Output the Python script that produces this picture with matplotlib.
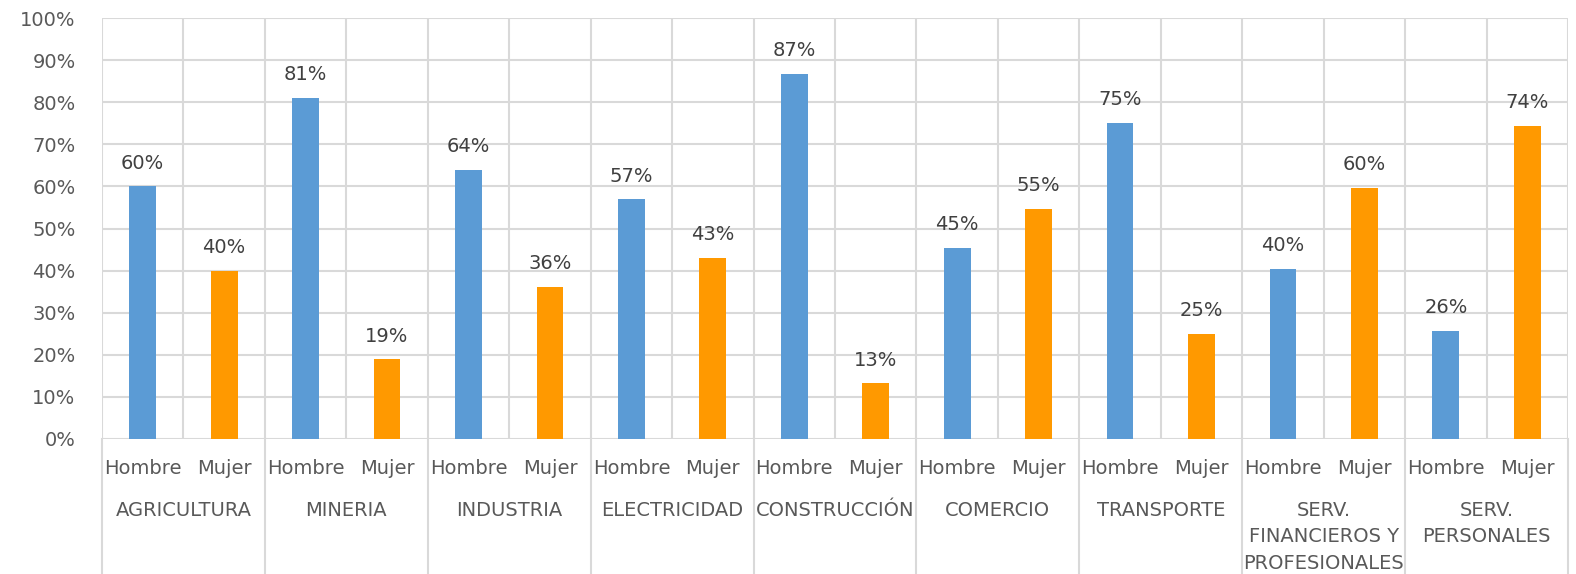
import numpy as np
import matplotlib

matplotlib.use('Agg')
import matplotlib.pyplot as plt

# data (share of employment by sex)
sectors = ['AGRICULTURA', 'MINERIA', 'INDUSTRIA', 'ELECTRICIDAD', 'CONSTRUCCIÓN',
           'COMERCIO', 'TRANSPORTE', 'SERV.\nFINANCIEROS Y\nPROFESIONALES',
           'SERV.\nPERSONALES']
sexes = ['Hombre', 'Mujer']
hombre = [60.0, 81.1, 63.9, 56.9, 86.8, 45.4, 75.1, 40.4, 25.6]
mujer = [40.0, 18.9, 36.1, 43.1, 13.2, 54.6, 24.9, 59.6, 74.4]

blue = '#5B9BD5'
orange = '#FF9900'
grid_c = '#D9D9D9'
tick_c = '#595959'
label_c = '#404040'

plt.rcParams['font.family'] = ['DejaVu Sans']

W, H = 1576, 574
fig = plt.figure(figsize=(W / 100, H / 100), dpi=100)
left, right, top, bottom = 102, 1568, 18, 439
ax = fig.add_axes([left / W, 1 - bottom / H, (right - left) / W, (bottom - top) / H])

n = len(sectors)
values = []
colors = []
for h, m in zip(hombre, mujer):
    values += [h, m]
    colors += [blue, orange]
x = np.arange(2 * n) + 0.5

bars = ax.bar(x, values, width=0.33, color=colors, zorder=3)
for xi, v in zip(x, values):
    ax.annotate(f'{v:.0f}%', (xi, v), xytext=(0, 10), textcoords='offset points',
                ha='center', va='bottom', fontsize=14, color=label_c)

ax.set_xlim(0, 2 * n)
ax.set_ylim(0, 100)
ax.set_yticks(np.arange(0, 101, 10))
ax.set_yticklabels([f'{t}%' for t in range(0, 101, 10)])
ax.tick_params(axis='y', length=0, pad=19, labelsize=14, labelcolor=tick_c)
ax.set_xticks([])
for s in ax.spines.values():
    s.set_visible(False)

for t in range(0, 101, 10):
    ax.axhline(t, color=grid_c, lw=1.5, zorder=1)
for i in range(2 * n + 1):
    ax.axvline(i, color=grid_c, lw=1.5, zorder=1)

# separators between sector groups below the axis
xt = ax.get_xaxis_transform()
for g in range(n + 1):
    ax.plot([2 * g, 2 * g], [0, -1], color=grid_c, lw=1.5, transform=xt, clip_on=False)

# two-level category labels
px = (bottom - top)
for i, xi in enumerate(x):
    ax.text(xi, -29 / px, sexes[i % 2], transform=xt, ha='center', va='center',
            fontsize=14, color=tick_c)
for g, name in enumerate(sectors):
    ax.text(2 * g + 1, -62 / px, name, transform=xt, ha='center', va='top',
            fontsize=14, color=tick_c, linespacing=1.5)

fig.savefig('out.png', dpi=100)
